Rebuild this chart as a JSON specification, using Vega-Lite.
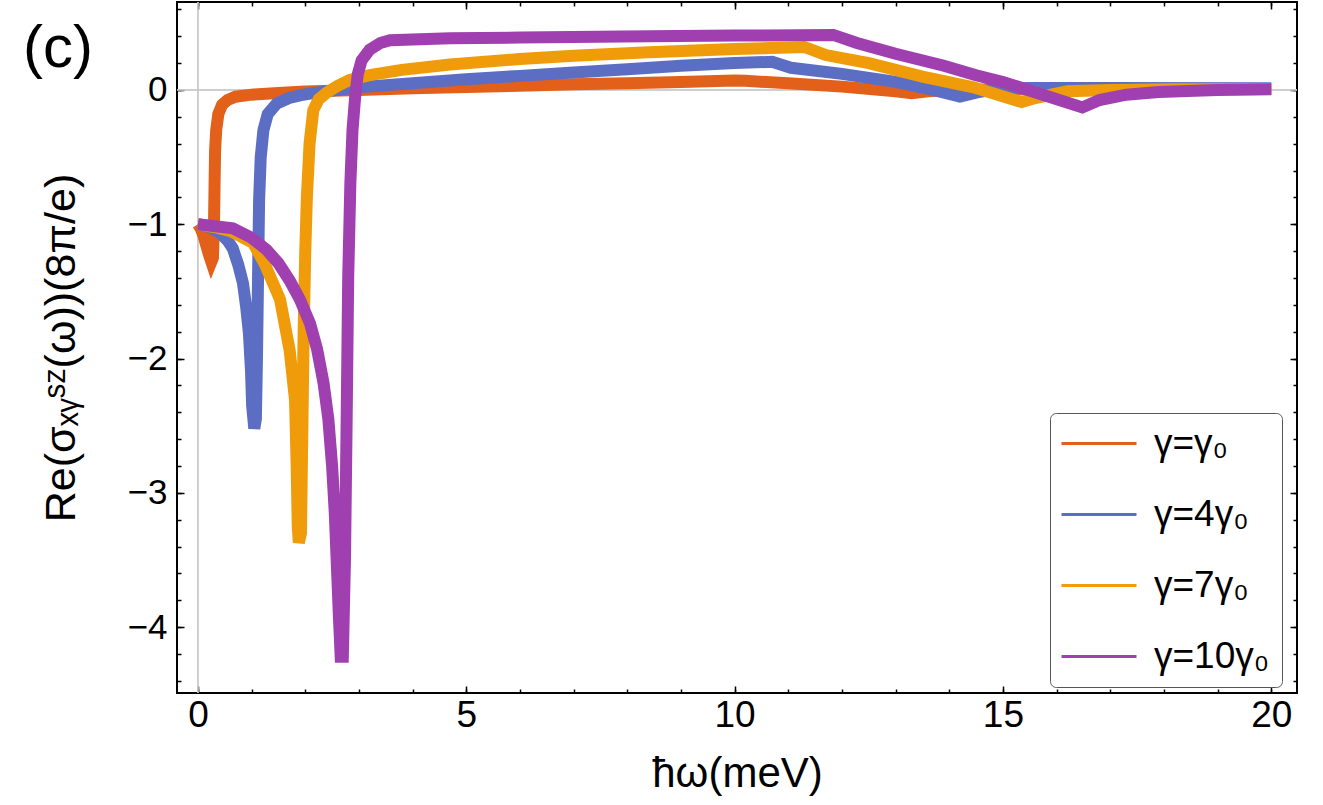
{
  "$schema": "https://vega.github.io/schema/vega-lite/v6.json",
  "width": 1120,
  "height": 691,
  "autosize": {"type": "none"},
  "padding": {"left": 177, "top": 2, "right": 26, "bottom": 112},
  "background": "white",
  "config": {
    "view": {"stroke": "#000", "strokeWidth": 2},
    "axis": {
      "domain": false,
      "grid": false,
      "tickColor": "#000",
      "tickWidth": 1.5,
      "labelColor": "#000",
      "titleColor": "#000",
      "labelFont": "Liberation Sans",
      "titleFont": "Liberation Sans",
      "titleFontWeight": "normal"
    }
  },
  "datasets": {
    "curves": [
      {"s": "γ=γ₀", "x": 0, "y": -1.0},
      {"s": "γ=γ₀", "x": 0.05, "y": -1.03},
      {"s": "γ=γ₀", "x": 0.1, "y": -1.08},
      {"s": "γ=γ₀", "x": 0.15, "y": -1.15},
      {"s": "γ=γ₀", "x": 0.2, "y": -1.22},
      {"s": "γ=γ₀", "x": 0.25, "y": -1.28},
      {"s": "γ=γ₀", "x": 0.28, "y": -1.25},
      {"s": "γ=γ₀", "x": 0.3, "y": -1.0},
      {"s": "γ=γ₀", "x": 0.31, "y": -0.7},
      {"s": "γ=γ₀", "x": 0.32, "y": -0.45},
      {"s": "γ=γ₀", "x": 0.34, "y": -0.3},
      {"s": "γ=γ₀", "x": 0.38, "y": -0.18},
      {"s": "γ=γ₀", "x": 0.45, "y": -0.11},
      {"s": "γ=γ₀", "x": 0.55, "y": -0.075},
      {"s": "γ=γ₀", "x": 0.7, "y": -0.05},
      {"s": "γ=γ₀", "x": 1.0, "y": -0.035},
      {"s": "γ=γ₀", "x": 1.5, "y": -0.022},
      {"s": "γ=γ₀", "x": 2.0, "y": -0.012},
      {"s": "γ=γ₀", "x": 3.0, "y": 0.0},
      {"s": "γ=γ₀", "x": 4.0, "y": 0.012},
      {"s": "γ=γ₀", "x": 5.0, "y": 0.022},
      {"s": "γ=γ₀", "x": 6.0, "y": 0.032},
      {"s": "γ=γ₀", "x": 7.0, "y": 0.042},
      {"s": "γ=γ₀", "x": 8.0, "y": 0.05},
      {"s": "γ=γ₀", "x": 9.0, "y": 0.06},
      {"s": "γ=γ₀", "x": 10.0, "y": 0.07},
      {"s": "γ=γ₀", "x": 10.2, "y": 0.068},
      {"s": "γ=γ₀", "x": 11.0, "y": 0.05},
      {"s": "γ=γ₀", "x": 12.0, "y": 0.025},
      {"s": "γ=γ₀", "x": 13.0, "y": -0.01},
      {"s": "γ=γ₀", "x": 13.3, "y": -0.025},
      {"s": "γ=γ₀", "x": 13.6, "y": -0.01},
      {"s": "γ=γ₀", "x": 14.0, "y": 0.0},
      {"s": "γ=γ₀", "x": 15.0, "y": 0.006},
      {"s": "γ=γ₀", "x": 17.0, "y": 0.008},
      {"s": "γ=γ₀", "x": 20.0, "y": 0.008},

      {"s": "γ=4γ₀", "x": 0, "y": -1.0},
      {"s": "γ=4γ₀", "x": 0.2, "y": -1.02},
      {"s": "γ=4γ₀", "x": 0.4, "y": -1.06},
      {"s": "γ=4γ₀", "x": 0.55, "y": -1.12},
      {"s": "γ=4γ₀", "x": 0.65, "y": -1.18},
      {"s": "γ=4γ₀", "x": 0.75, "y": -1.3},
      {"s": "γ=4γ₀", "x": 0.84, "y": -1.44},
      {"s": "γ=4γ₀", "x": 0.9, "y": -1.62},
      {"s": "γ=4γ₀", "x": 0.95, "y": -1.81},
      {"s": "γ=4γ₀", "x": 0.99, "y": -2.1},
      {"s": "γ=4γ₀", "x": 1.01, "y": -2.35},
      {"s": "γ=4γ₀", "x": 1.05, "y": -2.52},
      {"s": "γ=4γ₀", "x": 1.08, "y": -2.45},
      {"s": "γ=4γ₀", "x": 1.1, "y": -2.0},
      {"s": "γ=4γ₀", "x": 1.12, "y": -1.4},
      {"s": "γ=4γ₀", "x": 1.14, "y": -0.82},
      {"s": "γ=4γ₀", "x": 1.17, "y": -0.5},
      {"s": "γ=4γ₀", "x": 1.22, "y": -0.3},
      {"s": "γ=4γ₀", "x": 1.3, "y": -0.18},
      {"s": "γ=4γ₀", "x": 1.47, "y": -0.1},
      {"s": "γ=4γ₀", "x": 1.7, "y": -0.06},
      {"s": "γ=4γ₀", "x": 1.9, "y": -0.04},
      {"s": "γ=4γ₀", "x": 2.2, "y": -0.02},
      {"s": "γ=4γ₀", "x": 2.5, "y": -0.005},
      {"s": "γ=4γ₀", "x": 3.0, "y": 0.02},
      {"s": "γ=4γ₀", "x": 4.0, "y": 0.05},
      {"s": "γ=4γ₀", "x": 5.0, "y": 0.08},
      {"s": "γ=4γ₀", "x": 6.0, "y": 0.105},
      {"s": "γ=4γ₀", "x": 7.0, "y": 0.13},
      {"s": "γ=4γ₀", "x": 8.0, "y": 0.155},
      {"s": "γ=4γ₀", "x": 9.0, "y": 0.18},
      {"s": "γ=4γ₀", "x": 10.0, "y": 0.2},
      {"s": "γ=4γ₀", "x": 10.7, "y": 0.21},
      {"s": "γ=4γ₀", "x": 11.05, "y": 0.165},
      {"s": "γ=4γ₀", "x": 12.0, "y": 0.12},
      {"s": "γ=4γ₀", "x": 13.0, "y": 0.06},
      {"s": "γ=4γ₀", "x": 13.7, "y": 0.0},
      {"s": "γ=4γ₀", "x": 14.2, "y": -0.05},
      {"s": "γ=4γ₀", "x": 14.5, "y": -0.02},
      {"s": "γ=4γ₀", "x": 14.9, "y": 0.01},
      {"s": "γ=4γ₀", "x": 15.5, "y": 0.015},
      {"s": "γ=4γ₀", "x": 17.0, "y": 0.015},
      {"s": "γ=4γ₀", "x": 20.0, "y": 0.012},

      {"s": "γ=7γ₀", "x": 0, "y": -1.0},
      {"s": "γ=7γ₀", "x": 0.3, "y": -1.02},
      {"s": "γ=7γ₀", "x": 0.6, "y": -1.05},
      {"s": "γ=7γ₀", "x": 0.8, "y": -1.09},
      {"s": "γ=7γ₀", "x": 1.03, "y": -1.14},
      {"s": "γ=7γ₀", "x": 1.25, "y": -1.3},
      {"s": "γ=7γ₀", "x": 1.53, "y": -1.56},
      {"s": "γ=7γ₀", "x": 1.71, "y": -1.94},
      {"s": "γ=7γ₀", "x": 1.81, "y": -2.31},
      {"s": "γ=7γ₀", "x": 1.84, "y": -2.8},
      {"s": "γ=7γ₀", "x": 1.86, "y": -3.25},
      {"s": "γ=7γ₀", "x": 1.88, "y": -3.37},
      {"s": "γ=7γ₀", "x": 1.92, "y": -3.3},
      {"s": "γ=7γ₀", "x": 1.94, "y": -2.7},
      {"s": "γ=7γ₀", "x": 1.97, "y": -1.8},
      {"s": "γ=7γ₀", "x": 2.0, "y": -1.2},
      {"s": "γ=7γ₀", "x": 2.03, "y": -0.8},
      {"s": "γ=7γ₀", "x": 2.08, "y": -0.4},
      {"s": "γ=7γ₀", "x": 2.15, "y": -0.15},
      {"s": "γ=7γ₀", "x": 2.25, "y": -0.07},
      {"s": "γ=7γ₀", "x": 2.4, "y": -0.02},
      {"s": "γ=7γ₀", "x": 2.6, "y": 0.03},
      {"s": "γ=7γ₀", "x": 2.83, "y": 0.075},
      {"s": "γ=7γ₀", "x": 3.2, "y": 0.11},
      {"s": "γ=7γ₀", "x": 3.8, "y": 0.15},
      {"s": "γ=7γ₀", "x": 4.7, "y": 0.19},
      {"s": "γ=7γ₀", "x": 6.0, "y": 0.23},
      {"s": "γ=7γ₀", "x": 7.0, "y": 0.255},
      {"s": "γ=7γ₀", "x": 8.4, "y": 0.28},
      {"s": "γ=7γ₀", "x": 10.0, "y": 0.305},
      {"s": "γ=7γ₀", "x": 11.3, "y": 0.32},
      {"s": "γ=7γ₀", "x": 11.7, "y": 0.26},
      {"s": "γ=7γ₀", "x": 12.5, "y": 0.2},
      {"s": "γ=7γ₀", "x": 13.5, "y": 0.1},
      {"s": "γ=7γ₀", "x": 14.45, "y": 0.02},
      {"s": "γ=7γ₀", "x": 15.35, "y": -0.09},
      {"s": "γ=7γ₀", "x": 15.6, "y": -0.06},
      {"s": "γ=7γ₀", "x": 16.2, "y": -0.01},
      {"s": "γ=7γ₀", "x": 17.0, "y": 0.0},
      {"s": "γ=7γ₀", "x": 18.0, "y": 0.005},
      {"s": "γ=7γ₀", "x": 20.0, "y": 0.008},

      {"s": "γ=10γ₀", "x": 0, "y": -1.0},
      {"s": "γ=10γ₀", "x": 0.65, "y": -1.03},
      {"s": "γ=10γ₀", "x": 1.0, "y": -1.1},
      {"s": "γ=10γ₀", "x": 1.28, "y": -1.19},
      {"s": "γ=10γ₀", "x": 1.5, "y": -1.29},
      {"s": "γ=10γ₀", "x": 1.71, "y": -1.42},
      {"s": "γ=10γ₀", "x": 1.9, "y": -1.56},
      {"s": "γ=10γ₀", "x": 2.09, "y": -1.74},
      {"s": "γ=10γ₀", "x": 2.22, "y": -1.93},
      {"s": "γ=10γ₀", "x": 2.34, "y": -2.18},
      {"s": "γ=10γ₀", "x": 2.43, "y": -2.45},
      {"s": "γ=10γ₀", "x": 2.5, "y": -2.8},
      {"s": "γ=10γ₀", "x": 2.55, "y": -3.15},
      {"s": "γ=10γ₀", "x": 2.59, "y": -3.55},
      {"s": "γ=10γ₀", "x": 2.63, "y": -3.95},
      {"s": "γ=10γ₀", "x": 2.66, "y": -4.22},
      {"s": "γ=10γ₀", "x": 2.7, "y": -4.22},
      {"s": "γ=10γ₀", "x": 2.74, "y": -3.5},
      {"s": "γ=10γ₀", "x": 2.77, "y": -2.5},
      {"s": "γ=10γ₀", "x": 2.8, "y": -1.4},
      {"s": "γ=10γ₀", "x": 2.84, "y": -0.7},
      {"s": "γ=10γ₀", "x": 2.88, "y": -0.3},
      {"s": "γ=10γ₀", "x": 2.93, "y": -0.05},
      {"s": "γ=10γ₀", "x": 2.98, "y": 0.12},
      {"s": "γ=10γ₀", "x": 3.05, "y": 0.22},
      {"s": "γ=10γ₀", "x": 3.2, "y": 0.3},
      {"s": "γ=10γ₀", "x": 3.4, "y": 0.35},
      {"s": "γ=10γ₀", "x": 3.58, "y": 0.37},
      {"s": "γ=10γ₀", "x": 4.7, "y": 0.385},
      {"s": "γ=10γ₀", "x": 6.0, "y": 0.39},
      {"s": "γ=10γ₀", "x": 8.4, "y": 0.4},
      {"s": "γ=10γ₀", "x": 10.0, "y": 0.405},
      {"s": "γ=10γ₀", "x": 11.84, "y": 0.41},
      {"s": "γ=10γ₀", "x": 12.28, "y": 0.35},
      {"s": "γ=10γ₀", "x": 13.0, "y": 0.27},
      {"s": "γ=10γ₀", "x": 13.9, "y": 0.18},
      {"s": "γ=10γ₀", "x": 14.5, "y": 0.11},
      {"s": "γ=10γ₀", "x": 15.0, "y": 0.06},
      {"s": "γ=10γ₀", "x": 15.7, "y": -0.03},
      {"s": "γ=10γ₀", "x": 16.48, "y": -0.13},
      {"s": "γ=10γ₀", "x": 16.8, "y": -0.075},
      {"s": "γ=10γ₀", "x": 17.3, "y": -0.035},
      {"s": "γ=10γ₀", "x": 17.9, "y": -0.015},
      {"s": "γ=10γ₀", "x": 19.0, "y": 0.0},
      {"s": "γ=10γ₀", "x": 20.0, "y": 0.005}
    ],
    "zero": [{"v": 0}],
    "panel": [{"label": "(c)"}]
  },
  "layer": [
    {
      "data": {"name": "zero"},
      "mark": {"type": "rule", "color": "#c8c8c8", "strokeWidth": 1},
      "encoding": {
        "y": {
          "field": "v", "type": "quantitative",
          "scale": {"domain": [-4.49, 0.655], "nice": false, "zero": false},
          "axis": {"orient": "left", "values": [-4.4, -4.2, -4.0, -3.8, -3.6, -3.4, -3.2, -3.0, -2.8, -2.6, -2.4, -2.2, -2.0, -1.8, -1.6, -1.4, -1.2, -1.0, -0.8, -0.6, -0.4, -0.2, 0, 0.2, 0.4, 0.6], "tickSize": -4, "labels": false, "title": null}
        }
      }
    },
    {
      "data": {"name": "zero"},
      "mark": {"type": "rule", "color": "#c8c8c8", "strokeWidth": 1},
      "encoding": {
        "x": {
          "field": "v", "type": "quantitative",
          "scale": {"domain": [-0.39, 20.48], "nice": false, "zero": false},
          "axis": {"orient": "bottom", "values": [0, 1, 2, 3, 4, 5, 6, 7, 8, 9, 10, 11, 12, 13, 14, 15, 16, 17, 18, 19, 20], "tickSize": -4, "labels": false, "title": null}
        }
      }
    },
    {
      "data": {"name": "zero"},
      "mark": {"type": "rule", "color": "#c8c8c8", "strokeWidth": 1},
      "encoding": {
        "y": {
          "field": "v", "type": "quantitative",
          "scale": {"domain": [-4.49, 0.655], "nice": false, "zero": false},
          "axis": {"orient": "right", "values": [-4.4, -4.2, -4.0, -3.8, -3.6, -3.4, -3.2, -3.0, -2.8, -2.6, -2.4, -2.2, -2.0, -1.8, -1.6, -1.4, -1.2, -1.0, -0.8, -0.6, -0.4, -0.2, 0, 0.2, 0.4, 0.6], "tickSize": -4, "labels": false, "title": null}
        }
      }
    },
    {
      "data": {"name": "zero"},
      "mark": {"type": "rule", "color": "#c8c8c8", "strokeWidth": 1},
      "encoding": {
        "x": {
          "field": "v", "type": "quantitative",
          "scale": {"domain": [-0.39, 20.48], "nice": false, "zero": false},
          "axis": {"orient": "top", "values": [0, 1, 2, 3, 4, 5, 6, 7, 8, 9, 10, 11, 12, 13, 14, 15, 16, 17, 18, 19, 20], "tickSize": -4, "labels": false, "title": null}
        }
      }
    },
    {
      "data": {"name": "zero"},
      "mark": {"type": "rule", "color": "#c8c8c8", "strokeWidth": 1},
      "encoding": {
        "y": {
          "field": "v", "type": "quantitative",
          "scale": {"domain": [-4.49, 0.655], "nice": false, "zero": false},
          "axis": {"orient": "right", "values": [-4, -3, -2, -1, 0], "tickSize": -7, "labels": false, "title": null}
        }
      }
    },
    {
      "data": {"name": "zero"},
      "mark": {"type": "rule", "color": "#c8c8c8", "strokeWidth": 1},
      "encoding": {
        "x": {
          "field": "v", "type": "quantitative",
          "scale": {"domain": [-0.39, 20.48], "nice": false, "zero": false},
          "axis": {"orient": "top", "values": [0, 5, 10, 15, 20], "tickSize": -7, "labels": false, "title": null}
        }
      }
    },
    {
      "data": {"name": "curves"},
      "mark": {"type": "line", "strokeWidth": 12, "clip": true},
      "encoding": {
        "x": {
          "field": "x", "type": "quantitative",
          "scale": {"domain": [-0.39, 20.48], "nice": false, "zero": false},
          "axis": {"orient": "bottom", "values": [0, 5, 10, 15, 20], "tickSize": -7, "labelFontSize": 37, "labelPadding": 11, "title": "ħω(meV)", "titleFontSize": 42, "titlePadding": 20}
        },
        "y": {
          "field": "y", "type": "quantitative",
          "scale": {"domain": [-4.49, 0.655], "nice": false, "zero": false},
          "axis": {"orient": "left", "values": [0, -1, -2, -3, -4], "tickSize": -7, "labelFontSize": 35, "labelPadding": 17, "title": "Re(σₓᵧˢᶻ(ω))(8π/e)", "titleFontSize": 43, "titlePadding": 44}
        },
        "color": {
          "field": "s", "type": "nominal",
          "scale": {"domain": ["γ=γ₀", "γ=4γ₀", "γ=7γ₀", "γ=10γ₀"], "range": ["#E2601A", "#5C6EC3", "#F09B0A", "#A040B0"]},
          "legend": {
            "orient": "none",
            "legendX": 873,
            "legendY": 411,
            "title": null,
            "symbolType": "M-1.267,0H3.733",
            "symbolSize": 900,
            "symbolStrokeWidth": 3,
            "labelFont": "Liberation Sans",
            "labelFontSize": 37,
            "labelColor": "#000",
            "labelOffset": 55,
            "rowPadding": 33,
            "padding": 12,
            "strokeColor": "#555",
            "fillColor": "white",
            "cornerRadius": 6
          }
        }
      }
    },
    {
      "data": {"name": "panel"},
      "mark": {"type": "text", "align": "left", "baseline": "alphabetic", "font": "Liberation Sans", "fontSize": 60, "color": "#000", "clip": false},
      "encoding": {
        "text": {"field": "label"},
        "x": {"datum": -3.26, "type": "quantitative", "scale": {"domain": [-0.39, 20.48], "nice": false, "zero": false}, "axis": null},
        "y": {"datum": 0.171, "type": "quantitative", "scale": {"domain": [-4.49, 0.655], "nice": false, "zero": false}, "axis": null}
      }
    }
  ],
  "resolve": {"axis": {"x": "independent", "y": "independent"}}
}
